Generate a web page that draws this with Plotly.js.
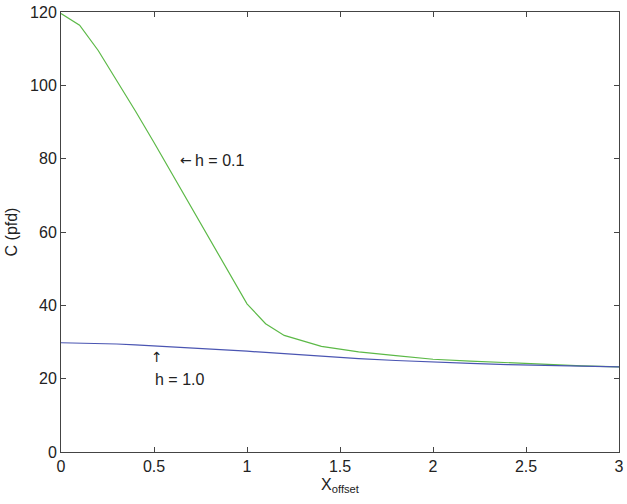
<!DOCTYPE html>
<html>
<head>
<meta charset="utf-8">
<script src="https://cdn.plot.ly/plotly-3.0.1.min.js"></script>
<style>html,body{margin:0;padding:0;background:#fff;}#chart{width:627px;height:504px;}</style>
</head>
<body>
<div id="chart"></div>
<script>
const xOffset = [0, 0.1, 0.2, 0.3, 0.4, 0.5, 0.6, 0.7, 0.8, 0.9, 1.0, 1.1, 1.2, 1.4, 1.6, 1.8, 2.0, 2.2, 2.4, 2.6, 2.8, 3.0];
const cH01 = [119.6, 116.4, 109.5, 101.4, 93.0, 84.4, 75.6, 66.6, 57.6, 48.8, 40.4, 35.0, 31.8, 28.8, 27.3, 26.3, 25.3, 24.8, 24.3, 23.9, 23.5, 23.2];
const cH10 = [29.8, 29.75, 29.65, 29.45, 29.2, 28.95, 28.65, 28.4, 28.1, 27.8, 27.5, 27.15, 26.8, 26.1, 25.45, 24.95, 24.5, 24.15, 23.85, 23.6, 23.4, 23.2];
const xTicks = [0, 0.5, 1, 1.5, 2, 2.5, 3];
const xTickText = ['0', '0.5', '1', '1.5', '2', '2.5', '3'];
const yTicks = [0, 20, 40, 60, 80, 100, 120];

const font = {family: 'Liberation Sans, Arial, sans-serif', size: 16, color: '#222'};
const arrowFont = {family: 'DejaVu Sans, sans-serif', size: 14, color: '#222'};

const traces = [
  {x: xOffset, y: cH01, type: 'scatter', mode: 'lines', line: {color: '#5cb947', width: 1.2}, name: 'h = 0.1'},
  {x: xOffset, y: cH10, type: 'scatter', mode: 'lines', line: {color: '#4a55b2', width: 1.2}, name: 'h = 1.0'}
];

const axisCommon = {
  showgrid: false, zeroline: false, showline: true, mirror: 'ticks',
  linecolor: '#444', linewidth: 1, ticks: 'inside', ticklen: 5, tickcolor: '#444',
  tickfont: font
};

const layout = {
  width: 627, height: 504,
  margin: {l: 61, r: 8, t: 12, b: 52},
  paper_bgcolor: '#fff', plot_bgcolor: '#fff',
  showlegend: false,
  font: font,
  xaxis: Object.assign({}, axisCommon, {
    range: [0, 3], tickvals: xTicks, ticktext: xTickText,
    title: {text: 'X<sub>offset</sub>', font: font, standoff: 4}
  }),
  yaxis: Object.assign({}, axisCommon, {
    range: [0, 120], tickvals: yTicks,
    title: {text: 'C (pfd)', font: font, standoff: 8}
  }),
  annotations: [
    {x: 0.63, y: 79.6, xref: 'x', yref: 'y', text: '←', showarrow: false, xanchor: 'left', yanchor: 'middle', font: arrowFont},
    {x: 0.71, y: 79.5, xref: 'x', yref: 'y', text: 'h = 0.1', showarrow: false, xanchor: 'left', yanchor: 'middle', font: font},
    {x: 0.516, y: 26.0, xref: 'x', yref: 'y', text: '↑', showarrow: false, xanchor: 'center', yanchor: 'middle', font: arrowFont},
    {x: 0.495, y: 19.8, xref: 'x', yref: 'y', text: 'h = 1.0', showarrow: false, xanchor: 'left', yanchor: 'middle', font: font}
  ]
};

Plotly.newPlot('chart', traces, layout, {displayModeBar: false, staticPlot: true});
</script>
</body>
</html>
